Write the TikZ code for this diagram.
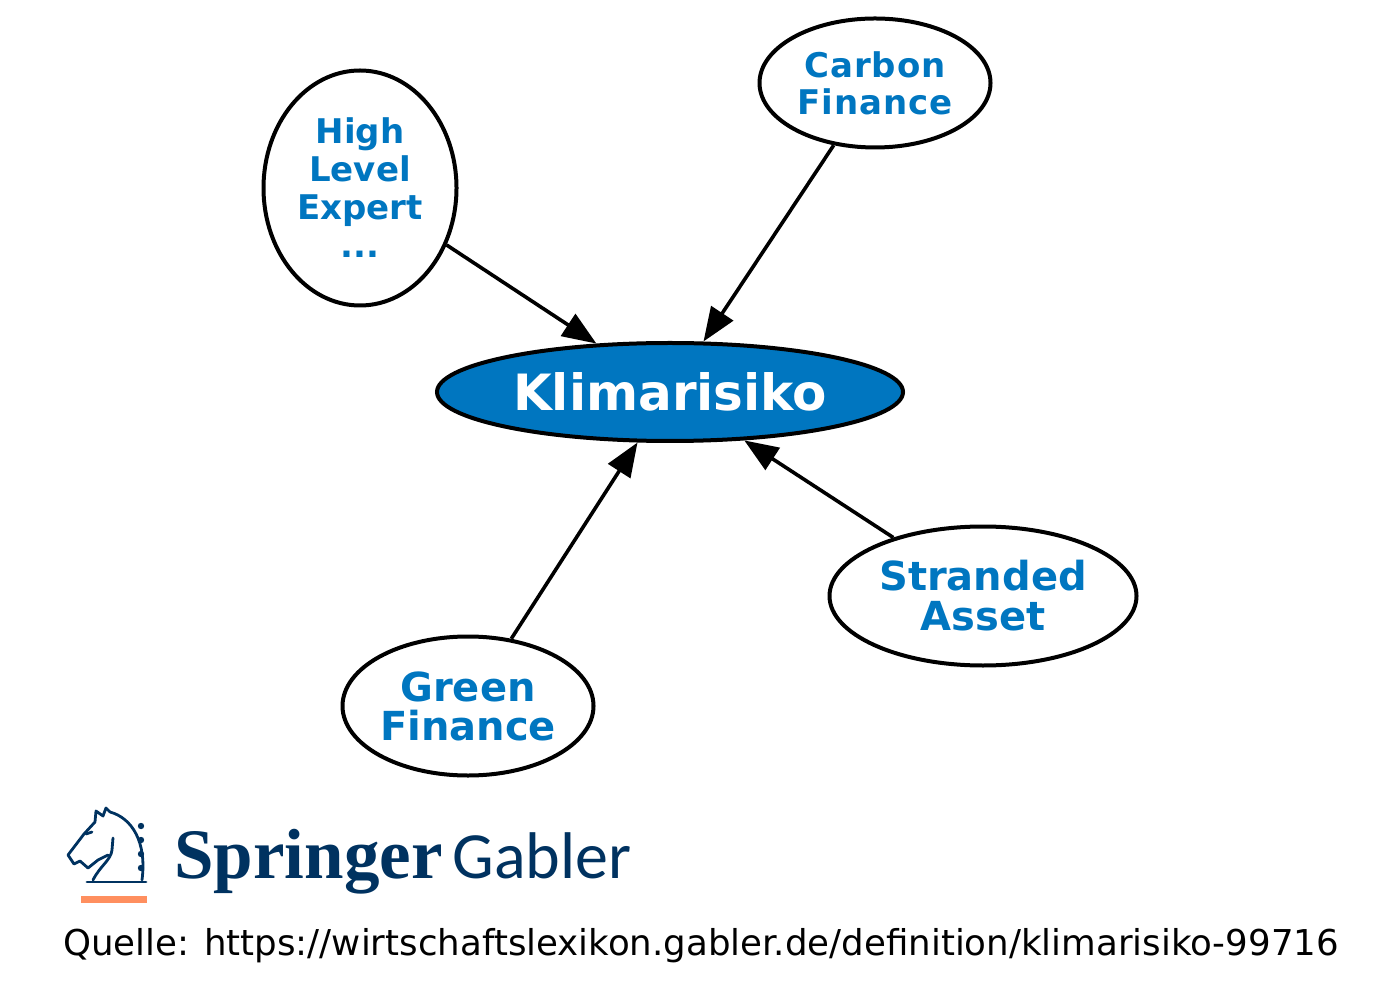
\documentclass[tikz,border=0pt]{standalone}
\usepackage{fontspec}
\setmainfont{DejaVu Sans}
\newfontfamily\springerfont{Liberation Serif}
\newfontfamily\gablerfont{Carlito}
\usetikzlibrary{shapes.geometric,arrows.meta}
\definecolor{klimablue}{RGB}{0,118,192}
\definecolor{logonavy}{RGB}{0,50,96}
\definecolor{logoorange}{RGB}{255,143,95}

\begin{document}
\begin{tikzpicture}[x=0.5pt,y=-0.5pt,
	topic/.style={draw,ellipse,line width=2pt,inner sep=0pt,align=center,
		text=klimablue,font=\bfseries\fontsize{17}{19}\selectfont},
	edge/.style={line width=1.8pt,-{Triangle[length=17pt,width=13pt]}},
	logo line/.style={logonavy,line width=1.4pt,line join=round,line cap=round}]
		\useasboundingbox (0,0) rectangle (1400,1004);
		\node[draw,ellipse,line width=2pt,fill=klimablue,text=white,
			minimum width=233pt,minimum height=49pt,
			font=\bfseries\fontsize{25}{28}\selectfont](k)at(670,392) {Klimarisiko};
		\node[topic,minimum width=96.5pt,minimum height=117.5pt](h)at(360,188) {High\\Level\\Expert\\...};
		\node[topic,minimum width=115.5pt,minimum height=64.5pt,
			font=\bfseries\addfontfeatures{LetterSpace=3}\fontsize{17}{18.5}\selectfont](c)at(875,83) {Carbon\\Finance};
		\node[topic,minimum width=153.5pt,minimum height=69.5pt,
			font=\bfseries\fontsize{20}{20}\selectfont](s)at(983,596) {Stranded\\Asset};
		\node[topic,minimum width=125.5pt,minimum height=69.5pt,
			font=\bfseries\fontsize{20}{19.5}\selectfont](g)at(468,706) {Green\\Finance};
		
		\draw[edge](h) -- (k);
		\draw[edge](c) -- (k);
		\draw[edge](g) -- (k);
		\draw[edge](s) -- (k);
		
		% Springer Gabler logo
		\draw[logo line](87,882) -- (146,882);
		\draw[logo line](93,880) .. controls (100,866) and (111,860) .. (112,850) -- (113,838);
		\draw[logo line](110,812) .. controls (132,818) and (147,842) .. (142,880);
		\draw[logo line](110,812) -- (106,808) -- (103,816) -- (96,811) -- (95,822)
			-- (84,834) -- (68,855) -- (74,864) -- (80,861) -- (88,868) -- (98,860) -- (108,855);
		\draw[logo line](86,834) -- (92,832);
		\foreach \y in {826,840,854,868}
			\fill[logonavy] (141,\y) circle (1.6pt);
		\fill[logoorange] (81,896) rectangle (147,903);
		\node[anchor=base west,inner sep=0pt,text=logonavy,
			font=\springerfont\bfseries\fontsize{35.5}{35.5}\selectfont](sp)at(174,878) {Springer};
		\node[anchor=base west,inner sep=0pt,text=logonavy,
			font=\gablerfont\fontsize{33}{33}\selectfont](ga)at(452,878) {Gabler};
		
		\node[anchor=base,inner sep=0pt,font=\fontsize{17.8}{20}\selectfont](q)at(701,955)
			{Quelle: https://wirtschaftslexikon.gabler.de/definition/klimarisiko-99716};
	\end{tikzpicture}
\end{document}
